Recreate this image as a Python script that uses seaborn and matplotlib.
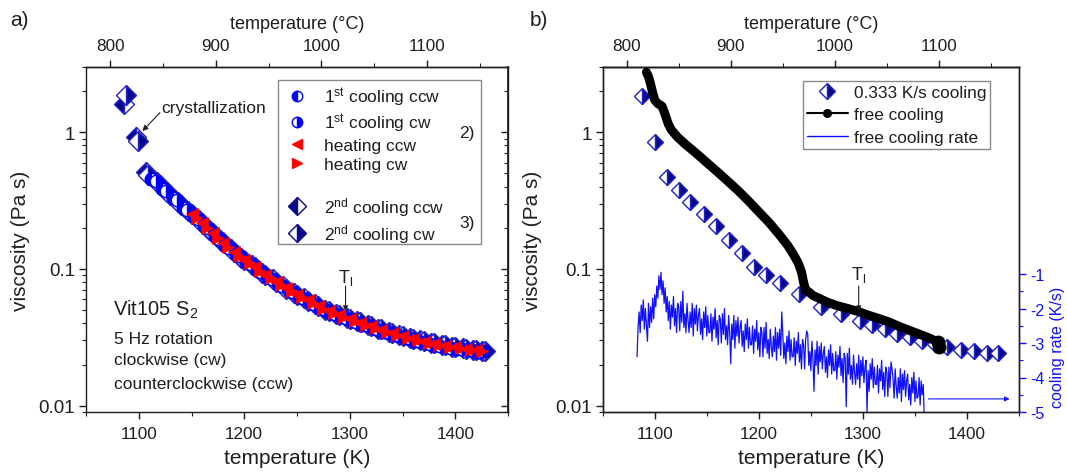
import numpy as np
import matplotlib
matplotlib.use("Agg")
import matplotlib.pyplot as plt
from matplotlib.lines import Line2D
from matplotlib.patches import Rectangle
from matplotlib.ticker import FixedLocator, LogLocator, NullFormatter
import seaborn as sns

# ---------------- panel a: Vit105 S2, 5 Hz rotation ----------------
# 1st cooling, counterclockwise / clockwise (K, Pa s)
T1_ccw = [1112, 1122, 1132, 1142, 1152, 1162, 1172, 1182, 1192, 1202, 1212, 1222, 1232, 1242, 1252, 1262,
          1272, 1282, 1292, 1302, 1312, 1322, 1332, 1342, 1352, 1362, 1372, 1382, 1392, 1402, 1412, 1422]
eta1_ccw = [0.455, 0.385, 0.33, 0.28, 0.24, 0.206, 0.174, 0.147, 0.128, 0.112, 0.098, 0.087, 0.0775, 0.0695,
            0.0622, 0.0566, 0.0517, 0.0476, 0.0444, 0.0417, 0.0392, 0.0369, 0.0348, 0.033, 0.0313, 0.0299,
            0.0287, 0.0277, 0.0268, 0.026, 0.0254, 0.0249]
T1_cw = [1116, 1126, 1136, 1146, 1156, 1166, 1176, 1186, 1196, 1206, 1216, 1226, 1236, 1246, 1256, 1266,
         1276, 1286, 1296, 1306, 1316, 1326, 1336, 1346, 1356, 1366, 1376, 1386, 1396, 1406, 1416, 1426]
eta1_cw = [0.44, 0.372, 0.318, 0.27, 0.232, 0.198, 0.167, 0.142, 0.124, 0.108, 0.095, 0.085, 0.0757, 0.068,
           0.0612, 0.0556, 0.0509, 0.0471, 0.0439, 0.0412, 0.0387, 0.0365, 0.0344, 0.0327, 0.0311, 0.0297,
           0.0285, 0.0275, 0.0266, 0.0259, 0.0254, 0.0250]

# heating, counterclockwise / clockwise
Th_ccw = [1150, 1160, 1170, 1180, 1190, 1200, 1210, 1220, 1230, 1240, 1250, 1260, 1270, 1280,
          1290, 1300, 1310, 1320, 1330, 1340, 1350, 1360, 1370, 1380, 1390, 1400, 1410, 1420]
etah_ccw = [0.252, 0.218, 0.183, 0.155, 0.133, 0.117, 0.103, 0.091, 0.081, 0.0725, 0.065, 0.059, 0.0535,
            0.049, 0.0459, 0.043, 0.0405, 0.038, 0.0359, 0.034, 0.0322, 0.0307, 0.0294, 0.0284, 0.0275,
            0.0267, 0.026, 0.0255]
Th_cw = [1155, 1165, 1175, 1185, 1195, 1205, 1215, 1225, 1235, 1245, 1255, 1265, 1275, 1285,
         1295, 1305, 1315, 1325, 1335, 1345, 1355, 1365, 1375, 1385, 1395, 1405, 1415, 1425]
etah_cw = [0.235, 0.2, 0.169, 0.144, 0.125, 0.11, 0.097, 0.086, 0.0765, 0.0688, 0.062, 0.0562, 0.0512,
           0.0474, 0.0444, 0.0417, 0.0392, 0.037, 0.0349, 0.0331, 0.0314, 0.03, 0.0289, 0.0279, 0.0271,
           0.0263, 0.0257, 0.0252]

# 2nd cooling, counterclockwise / clockwise
T2_ccw = [1086, 1097, 1107, 1117, 1127, 1137, 1147, 1157, 1167, 1177, 1187, 1197, 1207, 1217, 1227, 1237,
          1247, 1257, 1267, 1277, 1287, 1297, 1307, 1317, 1327, 1337, 1347, 1357, 1367, 1377, 1387, 1397,
          1407, 1417, 1425]
eta2_ccw = [1.62, 0.93, 0.51, 0.43, 0.365, 0.31, 0.265, 0.228, 0.194, 0.163, 0.139, 0.121, 0.107, 0.094,
            0.084, 0.075, 0.067, 0.061, 0.055, 0.0505, 0.047, 0.044, 0.0415, 0.039, 0.0367, 0.0347, 0.0329,
            0.0313, 0.03, 0.0288, 0.0278, 0.027, 0.0263, 0.0257, 0.0253]
T2_cw = [1088, 1099, 1109, 1120, 1130, 1140, 1150, 1160, 1170, 1180, 1190, 1200, 1210, 1220, 1230, 1240,
         1250, 1260, 1270, 1280, 1290, 1300, 1310, 1320, 1330, 1340, 1350, 1360, 1370, 1380, 1390, 1400,
         1410, 1420, 1428]
eta2_cw = [1.88, 0.86, 0.49, 0.41, 0.35, 0.296, 0.252, 0.216, 0.184, 0.157, 0.134, 0.116, 0.103, 0.091,
           0.081, 0.072, 0.065, 0.0585, 0.0535, 0.049, 0.046, 0.0432, 0.0408, 0.0384, 0.0362, 0.0342,
           0.0325, 0.031, 0.0297, 0.0286, 0.0276, 0.0268, 0.0261, 0.0256, 0.0252]

# ---------------- panel b: controlled vs. free cooling ----------------
cool_T = [1088, 1100, 1112, 1123, 1134, 1147, 1159, 1171, 1184, 1195, 1207, 1220, 1239, 1260, 1279, 1297,
          1309, 1321, 1333, 1345, 1357, 1369, 1381, 1394, 1407, 1419, 1430]
cool_eta = [1.84, 0.855, 0.467, 0.377, 0.307, 0.252, 0.207, 0.163, 0.130, 0.104, 0.091, 0.079, 0.0657,
            0.0525, 0.047, 0.042, 0.039, 0.0362, 0.0337, 0.0316, 0.0298, 0.0282, 0.0268, 0.0257, 0.025,
            0.0245, 0.0244]

free_T = [1092, 1094, 1096, 1098, 1100, 1103, 1107, 1110, 1113, 1116, 1122, 1130, 1140, 1150, 1160, 1170,
          1180, 1190, 1200, 1210, 1220, 1228, 1234, 1238, 1241, 1243, 1245, 1248, 1252, 1258, 1265, 1275,
          1285, 1295, 1305, 1315, 1325, 1335, 1345, 1355, 1365, 1372, 1373]
free_eta = [2.75, 2.55, 2.25, 1.95, 1.72, 1.62, 1.55, 1.35, 1.15, 1.04, 0.92, 0.81, 0.70, 0.60, 0.515,
            0.44, 0.375, 0.315, 0.262, 0.218, 0.177, 0.148, 0.125, 0.11, 0.095, 0.08, 0.07, 0.068, 0.064,
            0.061, 0.0575, 0.054, 0.0515, 0.049, 0.046, 0.0435, 0.041, 0.038, 0.0355, 0.0332, 0.031,
            0.0292, 0.027]

# free cooling rate (K/s), one reading per kelvin starting at 1083 K
rate = [
    -3.40, -2.55, -2.10, -2.70, -1.90, -2.35, -1.75, -2.60, -2.00, -2.50,
    -2.95, -1.85, -2.55, -1.95, -2.40, -1.70, -2.30, -1.60, -1.95, -1.35,
    -1.70, -1.05, -1.45, -0.95, -1.60, -1.20, -1.85, -1.40, -2.10, -1.65,
    -2.35, -1.80, -2.60, -1.90, -2.25, -1.65, -2.50, -2.00, -2.70, -1.85,
    -1.95, -2.65, -1.80, -2.40, -1.50, -2.55, -2.15, -2.70, -1.85, -2.35,
    -2.70, -2.10, -2.55, -1.85, -2.80, -2.00, -2.45, -1.90, -2.65, -2.20,
    -2.00, -2.75, -2.30, -2.90, -2.10, -2.55, -1.95, -2.80, -2.20, -2.70,
    -2.70, -2.15, -2.95, -2.25, -2.60, -2.00, -2.85, -2.35, -3.05, -2.20,
    -2.30, -3.00, -2.15, -2.75, -2.00, -2.90, -2.50, -3.05, -2.20, -2.70,
    -3.60, -2.45, -2.90, -2.20, -3.15, -2.35, -2.80, -2.25, -3.00, -2.55,
    -2.35, -3.10, -2.65, -3.25, -2.45, -2.90, -2.30, -3.15, -2.55, -3.05,
    -3.05, -2.50, -3.30, -2.60, -2.95, -2.35, -3.20, -2.70, -3.40, -2.55,
    -2.70, -3.40, -2.55, -3.15, -2.40, -3.30, -2.90, -3.45, -2.60, -3.10,
    -3.40, -2.80, -3.25, -2.55, -3.50, -2.70, -3.15, -2.60, -3.35, -2.10,
    -2.70, -3.45, -3.00, -3.60, -2.80, -3.25, -2.65, -3.50, -2.90, -3.40,
    -3.40, -2.85, -3.65, -2.95, -3.30, -2.70, -3.55, -3.05, -3.75, -2.90,
    -3.05, -3.75, -2.90, -2.65, -2.75, -3.65, -3.25, -3.80, -2.95, -3.45,
    -4.40, -3.20, -3.65, -2.95, -3.90, -3.10, -3.55, -3.00, -3.75, -3.30,
    -3.10, -3.85, -3.40, -4.00, -3.20, -3.65, -3.05, -3.90, -3.30, -3.80,
    -3.80, -3.25, -4.05, -3.35, -3.70, -3.10, -3.95, -3.45, -4.15, -3.30,
    -3.45, -4.85, -3.30, -3.90, -3.15, -4.05, -3.65, -4.20, -3.35, -3.85,
    -4.20, -3.60, -4.05, -3.35, -4.30, -3.50, -3.95, -3.40, -4.15, -3.70,
    -3.50, -5.00, -3.80, -4.40, -3.60, -4.05, -3.45, -4.30, -3.70, -4.20,
    -4.20, -3.65, -4.45, -3.75, -4.10, -3.50, -4.35, -3.85, -4.55, -3.70,
    -3.85, -4.55, -3.70, -4.30, -3.55, -3.75, -4.05, -4.60, -3.75, -4.25,
    -4.60, -4.00, -4.45, -3.75, -4.70, -3.90, -4.35, -3.80, -4.55, -4.10,
    -3.90, -4.65, -4.20, -4.80, -4.00, -4.45, -3.85, -4.70, -4.10, -4.60,
    -4.55, -4.00, -4.80, -4.10, -4.50, -4.20, -5.20, -5.60,
]
rate_T = list(range(1083, 1083 + len(rate)))

T_LIQ = 1296  # liquidus temperature (K)

# ---------------- style ----------------
sns.set_theme(style="white")
plt.rcParams["font.family"] = ["Liberation Sans", "DejaVu Sans"]
plt.rcParams["mathtext.fontset"] = "custom"
plt.rcParams["mathtext.rm"] = "Liberation Sans"
plt.rcParams["mathtext.it"] = "Liberation Sans:italic"
plt.rcParams["mathtext.bf"] = "Liberation Sans:bold"
plt.rcParams["mathtext.default"] = "regular"
plt.rcParams["axes.unicode_minus"] = False

INK = "#1e1e1e"
NAVY = "#08088a"
EDGE = "#2222c8"
BLUE = "#0000ff"
RED = "#ff0000"
RATE = "#1010ff"

W, H = 1067, 477
fig = plt.figure(figsize=(W / 100, H / 100), dpi=100)
axA = fig.add_axes([86 / W, (H - 413) / H, 422 / W, 345 / H])
axB = fig.add_axes([602.7 / W, (H - 413) / H, 416.3 / W, 345 / H])
for ax in (axA, axB):
    ax.set_yscale("log")


def k2c(t):
    return t - 273.15


def c2k(t):
    return t + 273.15


def markers(ax, x, y, marker, fill, face, edge, ms, z, mew=1.0):
    sns.lineplot(x=x, y=y, ax=ax, estimator=None, sort=False, legend=False,
                 marker=marker, linestyle="none", fillstyle=fill, color=face,
                 markerfacecolor=face, markerfacecoloralt="white",
                 markeredgecolor=edge, markeredgewidth=mew, markersize=ms, zorder=z)


def frame(ax, ylab_pad):
    ax.set_xlim(1050, 1450)
    ax.set_ylim(0.009, 3)
    ax.set_xticks([1100, 1200, 1300, 1400])
    ax.xaxis.set_minor_locator(FixedLocator([1050, 1150, 1250, 1350, 1450]))
    ax.set_yticks([0.01, 0.1, 1], labels=["0.01", "0.1", "1"])
    ax.yaxis.set_minor_locator(LogLocator(base=10, subs=np.arange(2, 10)))
    ax.yaxis.set_minor_formatter(NullFormatter())
    ax.tick_params(which="major", direction="out", length=5, width=1.0, color=INK, labelcolor=INK)
    ax.tick_params(which="minor", direction="out", length=3, width=0.8, color=INK)
    ax.tick_params(axis="x", which="major", labelsize=12.3, pad=5)
    ax.tick_params(axis="y", which="major", labelsize=13.5, pad=3)
    ax.tick_params(left=True, bottom=True, which="both")
    for s in ax.spines.values():
        s.set_color(INK)
        s.set_linewidth(1.0)
    ax.set_xlabel("temperature (K)", fontsize=15, color=INK, labelpad=5)
    ax.set_ylabel("viscosity (Pa s)", fontsize=15, color=INK, labelpad=ylab_pad)
    top = ax.secondary_xaxis("top", functions=(k2c, c2k))
    top.set_xticks([800, 900, 1000, 1100])
    top.xaxis.set_minor_locator(FixedLocator([850, 950, 1050, 1150]))
    top.tick_params(which="major", direction="out", length=5, width=1.0, color=INK,
                    labelcolor=INK, labelsize=12.3, pad=5)
    top.tick_params(which="minor", direction="out", length=3, width=0.8, color=INK)
    top.spines["top"].set_color(INK)
    top.spines["top"].set_linewidth(1.0)
    top.set_xlabel("temperature (°C)", fontsize=13, color=INK, labelpad=7)
    ax.set_facecolor("white")


# ---------------- panel a ----------------
markers(axA, T2_ccw, eta2_ccw, "D", "left", NAVY, EDGE, 10.0, 2)
markers(axA, T2_cw, eta2_cw, "D", "right", NAVY, EDGE, 10.0, 2)
markers(axA, T1_ccw, eta1_ccw, "o", "left", BLUE, BLUE, 9.0, 3)
markers(axA, T1_cw, eta1_cw, "o", "right", BLUE, BLUE, 9.0, 3)
markers(axA, Th_ccw, etah_ccw, "<", "full", RED, RED, 8.5, 4, mew=0.5)
markers(axA, Th_cw, etah_cw, ">", "full", RED, RED, 8.5, 4, mew=0.5)
frame(axA, 6)

right = axA.secondary_yaxis("right", functions=(lambda v: v, lambda v: v))
right.set_yticks([0.01, 0.1, 1])
right.yaxis.set_minor_locator(LogLocator(base=10, subs=np.arange(2, 10)))
right.yaxis.set_minor_formatter(NullFormatter())
right.tick_params(which="major", direction="in", length=5, width=1.0, color=INK, labelright=False)
right.tick_params(which="minor", direction="in", length=3, width=0.8, color=INK, labelright=False)
right.spines["right"].set_color(INK)

# legend of panel a, framed by a separate box so the "2)" / "3)" tags fit inside
axA.add_patch(Rectangle((0.455, 0.487), 0.481, 0.475, transform=axA.transAxes, facecolor="white",
                        edgecolor="#8a8a8a", linewidth=1.0, zorder=8))
hA = [
    Line2D([], [], ls="none", marker="o", fillstyle="left", color=BLUE, markerfacecolor=BLUE,
           markerfacecoloralt="white", markeredgecolor=BLUE, markersize=7.5),
    Line2D([], [], ls="none", marker="o", fillstyle="right", color=BLUE, markerfacecolor=BLUE,
           markerfacecoloralt="white", markeredgecolor=BLUE, markersize=7.5),
    Line2D([], [], ls="none", marker="<", color=RED, markeredgecolor=RED, markersize=7),
    Line2D([], [], ls="none", marker=">", color=RED, markeredgecolor=RED, markersize=7),
    Line2D([], [], ls="none"),
    Line2D([], [], ls="none", marker="D", fillstyle="left", color=NAVY, markerfacecolor=NAVY,
           markerfacecoloralt="white", markeredgecolor=NAVY, markersize=9.5),
    Line2D([], [], ls="none", marker="D", fillstyle="right", color=NAVY, markerfacecolor=NAVY,
           markerfacecoloralt="white", markeredgecolor=NAVY, markersize=9.5),
]
lA = ["1$^{st}$ cooling ccw", "1$^{st}$ cooling cw", "heating ccw", "heating cw", " ",
      "2$^{nd}$ cooling ccw", "2$^{nd}$ cooling cw"]
legA = axA.legend(hA, lA, loc="upper left", bbox_to_anchor=(0.455, 0.962), frameon=False,
                  fontsize=12.5, handlelength=1.6, handletextpad=0.75, borderpad=0.3,
                  labelspacing=0.22, borderaxespad=0)
legA.set_zorder(9)
for t in legA.get_texts():
    t.set_color(INK)
axA.text(0.902, 0.809, "2)", transform=axA.transAxes, fontsize=12.5, color=INK,
         ha="center", va="center", zorder=10)
axA.text(0.902, 0.55, "3)", transform=axA.transAxes, fontsize=12.5, color=INK,
         ha="center", va="center", zorder=10)

axA.text(0.178, 0.884, "crystallization", transform=axA.transAxes, fontsize=12.5, color=INK,
         ha="left", va="center")
axA.annotate("", xy=(1103.5, 1.02), xytext=(1120, 1.39),
             arrowprops=dict(arrowstyle="-|>", color=INK, lw=0.8, mutation_scale=8,
                             shrinkA=0, shrinkB=0))

axA.text(0.065, 0.299, "Vit105 S$_2$", transform=axA.transAxes, fontsize=14.5, color=INK,
         ha="left", va="center")
for yy, s in [(0.2136, "5 Hz rotation"), (0.1516, "clockwise (cw)"),
              (0.084, "counterclockwise (ccw)")]:
    axA.text(0.066, yy, s, transform=axA.transAxes, fontsize=12.5, color=INK,
             ha="left", va="center")

axA.text(T_LIQ, 0.081, "T$_\\mathrm{l}$", fontsize=13, color=INK, ha="center", va="baseline")
axA.annotate("", xy=(T_LIQ, 0.0493), xytext=(T_LIQ, 0.075),
             arrowprops=dict(arrowstyle="-|>", color=INK, lw=0.8, mutation_scale=7,
                             shrinkA=0, shrinkB=0))

# ---------------- panel b ----------------
sns.lineplot(x=free_T, y=free_eta, ax=axB, estimator=None, sort=False, legend=False,
             color="black", linewidth=6.5, solid_capstyle="round", solid_joinstyle="round",
             marker="o", markersize=10, markeredgewidth=0, markeredgecolor="black",
             markevery=[len(free_T) - 2, len(free_T) - 1], zorder=3)
markers(axB, cool_T, cool_eta, "D", "right", NAVY, EDGE, 8.5, 2)
frame(axB, 9)

axB.text(T_LIQ, 0.0845, "T$_\\mathrm{l}$", fontsize=13, color=INK, ha="center", va="baseline")
axB.annotate("", xy=(T_LIQ, 0.0493), xytext=(T_LIQ, 0.075),
             arrowprops=dict(arrowstyle="-|>", color=INK, lw=0.8, mutation_scale=7,
                             shrinkA=0, shrinkB=0))

axR = axB.twinx()
sns.lineplot(x=rate_T, y=rate, ax=axR, estimator=None, sort=False, legend=False,
             color=RATE, linewidth=0.9)
axR.set_ylim(-5, 5)
axR.set_yticks([-5, -4, -3, -2, -1])
axR.yaxis.set_minor_locator(FixedLocator([-4.5, -3.5, -2.5, -1.5]))
axR.tick_params(which="major", direction="out", length=5, width=1.0, color=RATE,
                labelcolor=RATE, labelsize=11.5, pad=3, right=True)
axR.tick_params(which="minor", direction="out", length=3, width=0.8, color=RATE, right=True)
axR.set_ylabel("cooling rate (K/s)", fontsize=11.5, color=RATE)
axR.yaxis.set_label_coords(1.075, 0.19)
for s in axR.spines.values():
    s.set_color(INK)
    s.set_linewidth(1.0)
axR.annotate("", xy=(1441, -4.62), xytext=(1363, -4.62),
             arrowprops=dict(arrowstyle="-|>", color=RATE, lw=0.8, mutation_scale=7,
                             shrinkA=0, shrinkB=0))

hB = [
    Line2D([], [], ls="none", marker="D", fillstyle="right", color=NAVY, markerfacecolor=NAVY,
           markerfacecoloralt="white", markeredgecolor=EDGE, markersize=8.5),
    Line2D([], [], color="black", lw=1.5, marker="o", markersize=5.5),
    Line2D([], [], color=RATE, lw=1.0),
]
legB = axB.legend(hB, ["0.333 K/s cooling", "free cooling", "free cooling rate"],
                  loc="upper left", bbox_to_anchor=(0.482, 0.959), fontsize=12.4,
                  handlelength=2.4, handletextpad=0.36, borderpad=0.2, labelspacing=0.45,
                  borderaxespad=0, frameon=True, fancybox=False, framealpha=1,
                  edgecolor="#8a8a8a")
legB.get_frame().set_linewidth(1.0)
for t in legB.get_texts():
    t.set_color(INK)

fig.text(10 / W, 1 - 20 / H, "a)", fontsize=15, color=INK, ha="left", va="center")
fig.text(530 / W, 1 - 20 / H, "b)", fontsize=15, color=INK, ha="left", va="center")

fig.savefig("out.png", dpi=100, facecolor="white")
